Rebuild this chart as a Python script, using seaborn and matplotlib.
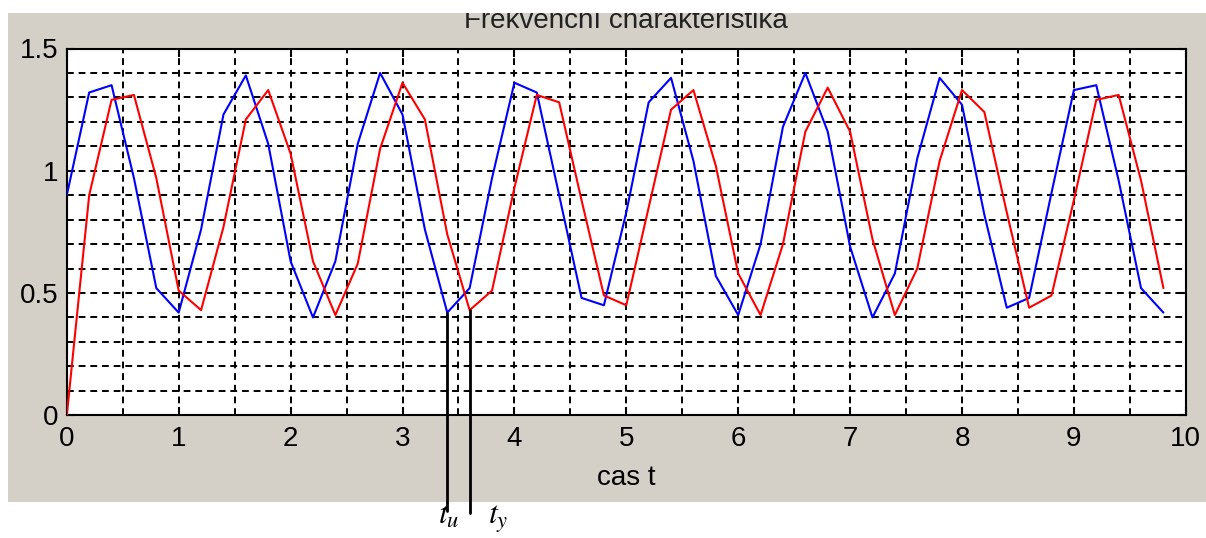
import matplotlib
matplotlib.use("Agg")
import matplotlib.pyplot as plt
import seaborn as sns
import pandas as pd
from matplotlib.patches import Rectangle
from matplotlib.ticker import MultipleLocator

# ---- data ----
t = [0.0, 0.2, 0.4, 0.6, 0.8, 1.0, 1.2, 1.4, 1.6, 1.8,
     2.0, 2.2, 2.4, 2.6, 2.8, 3.0, 3.2, 3.4, 3.6, 3.8,
     4.0, 4.2, 4.4, 4.6, 4.8, 5.0, 5.2, 5.4, 5.6, 5.8,
     6.0, 6.2, 6.4, 6.6, 6.8, 7.0, 7.2, 7.4, 7.6, 7.8,
     8.0, 8.2, 8.4, 8.6, 8.8, 9.0, 9.2, 9.4, 9.6, 9.8]

u_blue = [0.90, 1.32, 1.35, 0.97, 0.52, 0.42, 0.76, 1.23, 1.39, 1.11,
          0.63, 0.40, 0.63, 1.11, 1.40, 1.23, 0.76, 0.42, 0.52, 0.97,
          1.36, 1.32, 0.90, 0.48, 0.45, 0.83, 1.28, 1.38, 1.04, 0.57,
          0.41, 0.70, 1.18, 1.40, 1.16, 0.69, 0.40, 0.58, 1.05, 1.38,
          1.27, 0.82, 0.44, 0.48, 0.91, 1.33, 1.35, 0.96, 0.52, 0.42]

y_red = [0.00, 0.90, 1.29, 1.31, 0.97, 0.51, 0.43, 0.77, 1.21, 1.33,
         1.07, 0.63, 0.41, 0.62, 1.09, 1.36, 1.21, 0.74, 0.43, 0.51,
         0.93, 1.31, 1.28, 0.88, 0.49, 0.45, 0.85, 1.25, 1.33, 1.02,
         0.58, 0.41, 0.70, 1.16, 1.34, 1.16, 0.72, 0.41, 0.60, 1.04,
         1.33, 1.24, 0.83, 0.44, 0.49, 0.88, 1.29, 1.31, 0.96, 0.52]

x_ticks = [0, 1, 2, 3, 4, 5, 6, 7, 8, 9, 10]
x_tick_labels = ["0", "1", "2", "3", "4", "5", "6", "7", "8", "9", "10"]
y_ticks = [0, 0.5, 1.0, 1.5]
y_tick_labels = ["0", "0.5", "1", "1.5"]

title_text = "Frekvenční charakteristika"
xlabel_text = "cas t"
tu_index = 17   # minimum of u marked by t_u
ty_index = 18   # minimum of y marked by t_y

# ---- styling ----
sns.set_theme(style="white")
plt.rcParams["font.family"] = ["Liberation Sans", "DejaVu Sans"]
plt.rcParams["mathtext.fontset"] = "stix"

W, H = 1206, 538
fig = plt.figure(figsize=(W / 100, H / 100), dpi=100)
fig.patch.set_facecolor("white")

# grey MATLAB figure panel
fig.patches.append(Rectangle((8 / W, 1 - 502 / H), (W - 8) / W, (502 - 13) / H,
                             transform=fig.transFigure, facecolor="#D4D0C8",
                             edgecolor="none", zorder=-2))

ax = fig.add_axes([66.8 / W, 1 - 415.3 / H, (1185.8 - 66.8) / W, (415.3 - 48.5) / H])
ax.set_facecolor("white")

df = pd.DataFrame({"t": t, "u": u_blue, "y": y_red})
sns.lineplot(data=df, x="t", y="u", color="#0000FF", linewidth=1.5, ax=ax,
             estimator=None, zorder=3)
sns.lineplot(data=df, x="t", y="y", color="#FF0000", linewidth=1.5, ax=ax,
             estimator=None, zorder=3)

ax.set_xlim(0, 10)
ax.set_ylim(0, 1.5)
ax.set_xticks(x_ticks)
ax.set_xticklabels(x_tick_labels)
ax.set_yticks(y_ticks)
ax.set_yticklabels(y_tick_labels)
ax.xaxis.set_minor_locator(MultipleLocator(0.5))
ax.yaxis.set_minor_locator(MultipleLocator(0.1))
ax.set_axisbelow(True)
ax.grid(which="both", color="black", linestyle=(0, (3.5, 2.5)), linewidth=1.4)
ax.tick_params(which="major", direction="in", length=6, width=1.5,
               top=True, right=True, bottom=True, left=True,
               labelsize=20, colors="black")
ax.tick_params(axis="x", which="major", pad=8)
ax.tick_params(axis="y", which="major", pad=6)
ax.tick_params(which="minor", length=0)
for s in ax.spines.values():
    s.set_color("black")
    s.set_linewidth(1.5)
ax.set_xlabel(xlabel_text, fontsize=20, color="black", labelpad=9)
ax.set_ylabel("")

# markers of t_u and t_y
ax.plot([t[tu_index], t[tu_index]], [u_blue[tu_index], -0.39], color="black",
        linewidth=2, clip_on=False, zorder=6)
ax.plot([t[ty_index], t[ty_index]], [y_red[ty_index], -0.40], color="black",
        linewidth=2, clip_on=False, zorder=6)
fig.text(438 / W, 1 - 524 / H, r"$t_u$", fontsize=23, va="baseline", ha="left", color="black")
fig.text(488 / W, 1 - 524 / H, r"$t_y$", fontsize=23, va="baseline", ha="left", color="black")

# title, partly cut off by the top of the window
fig.text(626 / W, 1 - 28 / H, title_text, fontsize=20, ha="center", va="baseline",
         color="#222222", zorder=3)
fig.patches.append(Rectangle((0, 1 - 13 / H), 1, 13 / H, transform=fig.transFigure,
                             facecolor="white", edgecolor="none", zorder=10))

fig.savefig("out.png", dpi=100)
